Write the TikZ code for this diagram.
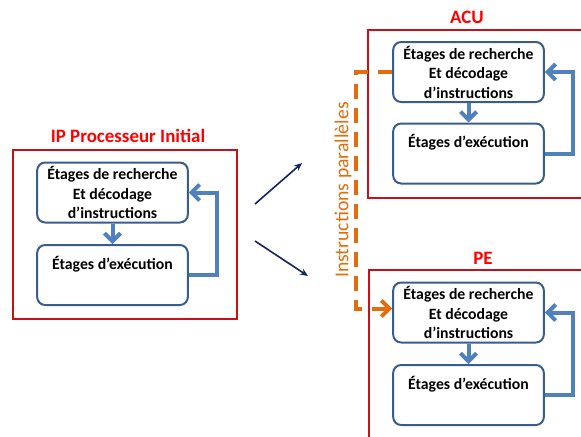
\documentclass[tikz,border=0pt]{standalone}
\usepackage{fontspec}
\setmainfont{Carlito}
\usetikzlibrary{arrows.meta}
\definecolor{cadre}{RGB}{200,16,24}
\definecolor{titre}{RGB}{255,0,0}
\definecolor{bord}{RGB}{56,93,138}
\definecolor{bleu}{RGB}{79,129,189}
\definecolor{marine}{RGB}{20,36,94}
\definecolor{orange}{RGB}{228,108,10}

\begin{document}
\begin{tikzpicture}[x=0.75pt, y=-0.75pt,
    frame/.style={draw=cadre, line width=1.5pt, inner sep=0pt},
    titre/.style={text=titre, font=\bfseries\fontsize{14.2}{16}\selectfont},
    etage/.style={draw=bord, line width=1.5pt, rounded corners=6pt, minimum width=113pt, minimum height=45pt, align=center, font=\bfseries\fontsize{11.8}{14.6}\selectfont, inner sep=1pt},
    fb/.style={draw=bleu, line width=3pt, -{Straight Barb[length=6pt, width=12pt, line width=3pt]}},
    vers/.style={draw=marine, line width=1.2pt, -{Stealth[length=6pt, width=5pt]}},
    para/.style={draw=orange, line width=3pt, dash pattern=on 11pt off 7pt, -{Straight Barb[length=6pt, width=12pt, line width=3pt]}}]
       \clip (0,0) rectangle (581,436);
       % processeur initial
       \node[frame, minimum width=168pt, minimum height=126.75pt] (ip) at (125,234.5) {};
       \node[titre] (tip) at (128,136) {IP Processeur Initial};
       \node[etage] (ip1) at (112.5,192.5) {Étages de recherche\\Et décodage\\d’instructions};
       \node[etage] (ip2) at (112.5,275) {Étages d’exécution\\[4pt]};
       \path[fb] (ip1) -- (ip2);
       \path[fb] (ip2.east) -- ++(28,0) |- (ip1.east);
       % ACU
       \node[frame, minimum width=174pt, minimum height=126pt] (acu) at (484,114) {};
       \node[titre] (tacu) at (467,17) {ACU};
       \node[etage] (acu1) at (468.5,72) {Étages de recherche\\Et décodage\\d’instructions};
       \node[etage] (acu2) at (468.5,153.5) {Étages d’exécution\\[4pt]};
       \path[fb] (acu1) -- (acu2);
       \path[fb] (acu2.east) -- ++(28,0) |- (acu1.east);
       % PE
       \node[frame, minimum width=174pt, minimum height=142.5pt] (pe) at (485,365) {};
       \node[titre] (tpe) at (483,258) {PE};
       \node[etage] (pe1) at (468.5,312.5) {Étages de recherche\\Et décodage\\d’instructions};
       \node[etage] (pe2) at (468.5,395) {Étages d’exécution\\[4pt]};
       \path[fb] (pe1) -- (pe2);
       \path[fb] (pe2.east) -- ++(28,0) |- (pe1.east);
       % fleches
       \coordinate (d1) at (255,204);
       \coordinate (a1) at (302,163);
       \coordinate (d2) at (255,241);
       \coordinate (a2) at (308,276);
       \path[vers] (d1) -- (a1);
       \path[vers] (d2) -- (a2);
       % instructions paralleles
       \path[para] (acu1.west) -- ++(-36,0) |- ([yshift=3pt]pe1.west);
       \node[text=orange, rotate=90, font=\fontsize{14.8}{17}\selectfont] (tpara) at (343,190) {Instructions parallèles};
\end{tikzpicture}
\end{document}
